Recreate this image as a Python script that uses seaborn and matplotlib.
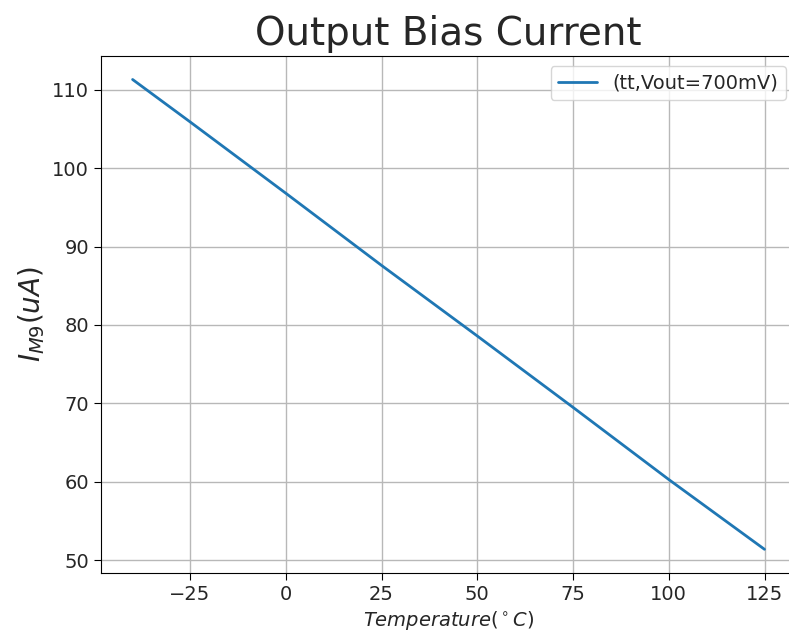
import matplotlib
matplotlib.use("Agg")
import matplotlib.pyplot as plt
import seaborn as sns
import pandas as pd

temperature = [-40, -25, 0, 25, 50, 75, 100, 125]
current = [111.3, 105.9, 96.8, 87.6, 78.6, 69.5, 60.3, 51.4]
series_label = "(tt,Vout=700mV)"

sns.set_style("ticks")
plt.rcParams['font.family'] = ['DejaVu Sans']

df = pd.DataFrame({"T": temperature, "I": current})

fig = plt.figure(figsize=(7.89, 6.4), dpi=100)
ax = fig.add_axes([0.128, 0.105, 0.881, 0.8075])
sns.lineplot(data=df, x="T", y="I", ax=ax, color="#1f77b4", linewidth=2, label=series_label)
ax.grid(True, color="#b8b8b8", linewidth=1)
for s in ax.spines.values():
    s.set_visible(True)
    s.set_color("black")
ax.tick_params(labelsize=14, length=5, color="black")
ax.set_xticks([-25, 0, 25, 50, 75, 100, 125])
ax.set_yticks([50, 60, 70, 80, 90, 100, 110])
ax.set_title("Output Bias Current", fontsize=28, pad=8)
ax.set_xlabel(r"$Temperature(^\circ C)$", fontsize=14)
ax.set_ylabel(r"$I_{M9}(uA)$", fontsize=20)
ax.legend(loc="upper right", fontsize=14)
fig.savefig("out.png", dpi=100)
